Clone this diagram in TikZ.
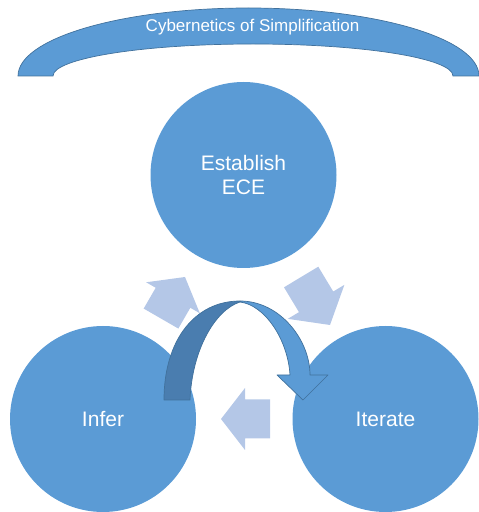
\documentclass[tikz,border=0pt]{standalone}
\usepackage{fontspec}
\setmainfont{Liberation Sans}
\definecolor{cblue}{HTML}{5B9BD5}
\definecolor{cline}{HTML}{41719C}
\definecolor{cdark}{HTML}{4A7DAF}
\definecolor{clight}{HTML}{B4C7E7}
\begin{document}
\begin{tikzpicture}[x=1pt,y=1pt,
  circ/.style={circle,fill=cblue,minimum size=186pt,inner sep=0pt,text=white,font=\fontsize{21}{24}\selectfont,align=center},
  band/.style={fill=cblue,draw=cline,line width=0.7pt},
  lightarrow/.style={fill=clight},
  darkband/.style={fill=cdark,draw=cline,line width=0.7pt,line join=round}]
\useasboundingbox (0,0) rectangle (479,512);
% top arc band
\draw[band] (18,436) arc[start angle=180,end angle=0,x radius=230.5pt,y radius=68pt]
  -- (453,436) arc[start angle=0,end angle=180,x radius=200pt,y radius=32pt] -- cycle;
\node[text=white,font=\fontsize{17}{20}\selectfont] (title) at (252.5,485) {Cybernetics of Simplification};
% circles
\node[circ] (ece) at (243.5,337) {Establish\\ECE};
\node[circ] (infer) at (103,93) {Infer};
\node[circ] (iterate) at (385.5,93) {Iterate};
% light block arrows
\begin{scope}[shift={(185,235)},rotate=60]
  \fill[lightarrow] (0,0) -- (-24,31) -- (-24,20) -- (-48,20) -- (-48,-20) -- (-24,-20) -- (-24,-31) -- cycle;
\end{scope}
\begin{scope}[shift={(330,187)},rotate=-59]
  \fill[lightarrow] (0,0) -- (-27,33) -- (-27,20) -- (-56,20) -- (-56,-20) -- (-27,-20) -- (-27,-33) -- cycle;
\end{scope}
\begin{scope}[shift={(221,93)},rotate=180]
  \fill[lightarrow] (0,0) -- (-24,31) -- (-24,19.5) -- (-49,19.5) -- (-49,-19.5) -- (-24,-19.5) -- (-24,-31) -- cycle;
\end{scope}
% big curved arrow
\draw[band,line join=round] (240,211) .. controls (280,211) and (310,172) .. (310,137)
  -- (328,137) -- (303,112) -- (277,137) -- (290,137)
  .. controls (288,172) and (265,207) .. (240,210) -- cycle;
\draw[darkband] (164,112) .. controls (164,172) and (195,211) .. (240,211)
  -- (240,210) .. controls (215,202) and (192,162) .. (190,112) -- cycle;
\end{tikzpicture}
\end{document}
